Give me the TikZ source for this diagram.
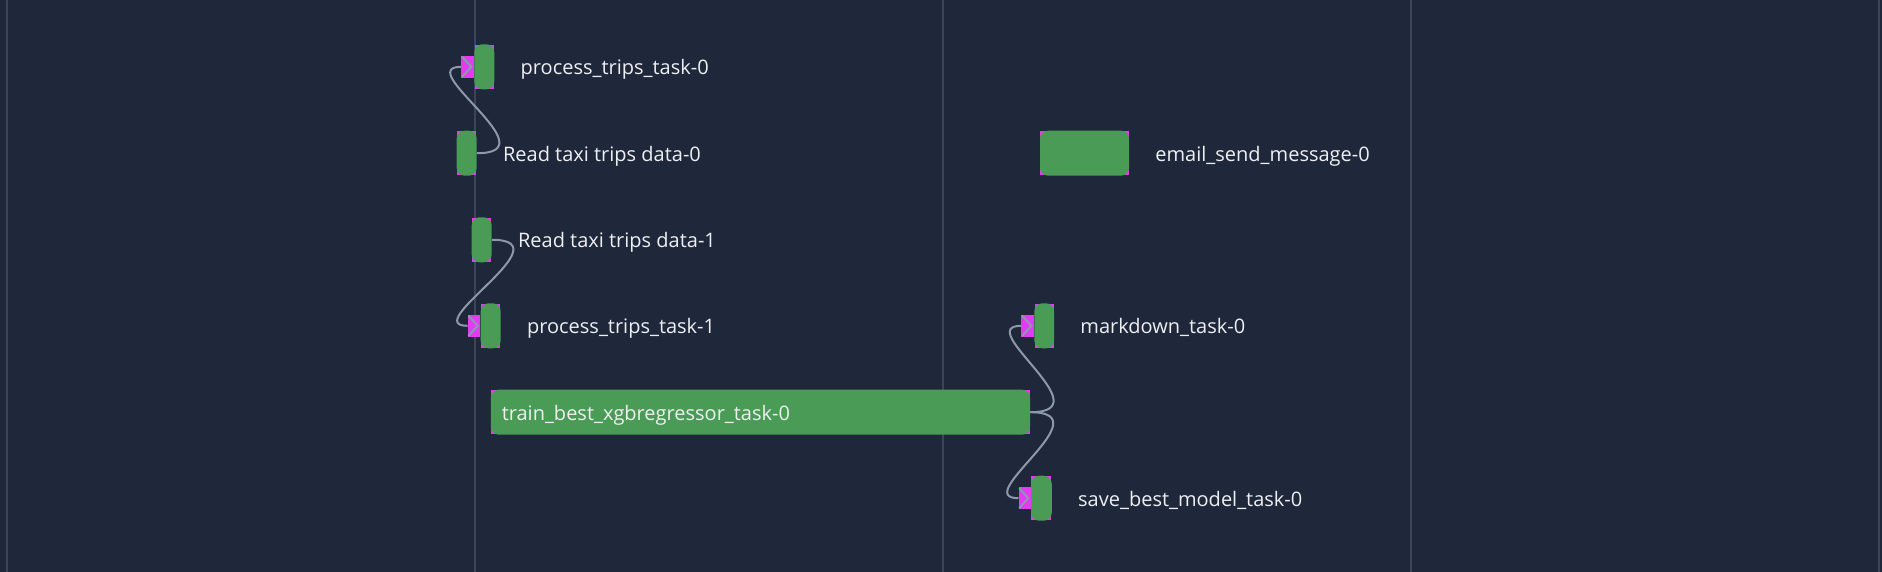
\documentclass[tikz,border=0pt]{standalone}
\usepackage{fontspec}
\setmainfont{Open Sans}
\usepackage{tikz}
\usetikzlibrary{positioning, arrows.meta}
\pgfdeclarelayer{bg}
\pgfdeclarelayer{back}
\pgfsetlayers{bg,back,main}

\definecolor{canvas}{HTML}{1F283A}
\definecolor{gridline}{HTML}{3A4558}
\definecolor{runbar}{HTML}{4A9B55}
\definecolor{pinkbox}{HTML}{E23CF2}
\definecolor{wire}{HTML}{8D98AC}
\definecolor{labeltext}{HTML}{EDEFF2}

\tikzset{
    taskbar/.style={fill=runbar, rounded corners=8pt, inner sep=0pt, minimum height=45pt},
    taskin/.style={fill=pinkbox, inner sep=0pt, minimum width=12.5pt, minimum height=21.5pt,
        path picture={\draw[wire, line width=2pt]
            ([xshift=0.5pt,yshift=-0.5pt]path picture bounding box.north west) --
            ([xshift=-2.5pt]path picture bounding box.east) --
            ([xshift=0.5pt,yshift=0.5pt]path picture bounding box.south west);}},
    tasklabel/.style={inner sep=0pt, text=labeltext, text height=16pt, text depth=0pt,
        font=\fontsize{20}{24}\selectfont},
    dep/.style={draw=wire, line width=2pt},
}

\begin{document}
\begin{tikzpicture}[x=1pt, y=-1pt]
    \useasboundingbox (0,0) rectangle (1882,572);

    % canvas and time grid
    \begin{pgfonlayer}{bg}
        \fill[canvas] (0,0) rectangle (1882,572);
        \foreach \x in {7,475,943,1411,1879}
            \draw[gridline, line width=2pt] (\x,0) -- (\x,572);
    \end{pgfonlayer}

    % task bars
    \node[taskbar, minimum width=20pt] (pt0) at (484.3,66.8) {};
    \node[taskbar, minimum width=20pt] (rd0) at (466.7,153.2) {};
    \node[taskbar, minimum width=20pt] (rd1) at (481.7,239.8) {};
    \node[taskbar, minimum width=20pt] (pt1) at (490.7,325.8) {};
    \node[taskbar, minimum width=539.3pt] (train) at (760.4,412.2) {};
    \node[taskbar, minimum width=89pt] (email) at (1084.5,153.2) {};
    \node[taskbar, minimum width=19.7pt] (md) at (1044.2,325.8) {};
    \node[taskbar, minimum width=20.7pt] (save) at (1041.4,498.2) {};

    % pink corners behind the bars
    \begin{pgfonlayer}{back}
        \foreach \t in {pt0,rd0,rd1,pt1,train,email,md,save}
            \fill[pinkbox] ([shift={(0.5pt,0.5pt)}]\t.south west) rectangle ([shift={(-0.5pt,-0.5pt)}]\t.north east);
    \end{pgfonlayer}

    % inputs
    \node[taskin, left=0pt of pt0] (pt0in) {};
    \node[taskin, left=0pt of pt1] (pt1in) {};
    \node[taskin, left=0pt of md] (mdin) {};
    \node[taskin, left=0pt of save, minimum width=12pt] (savein) {};

    % labels
    \node[tasklabel, right=26pt of pt0] (pt0lbl) {process\_trips\_task-0};
    \node[tasklabel, right=26pt of rd0] (rd0lbl) {Read taxi trips data-0};
    \node[tasklabel, right=26pt of rd1] (rd1lbl) {Read taxi trips data-1};
    \node[tasklabel, right=26pt of pt1] (pt1lbl) {process\_trips\_task-1};
    \node[tasklabel, right=11pt of train.west] (trainlbl) {train\_best\_xgbregressor\_task-0};
    \node[tasklabel, right=26pt of email] (emaillbl) {email\_send\_message-0};
    \node[tasklabel, right=26pt of md] (mdlbl) {markdown\_task-0};
    \node[tasklabel, right=26pt of save] (savelbl) {save\_best\_model\_task-0};

    % dependencies
    \draw[dep] (rd0.east) .. controls +(75,0) and +(-50,0) .. (pt0in.west);
    \draw[dep] (rd1.east) .. controls +(75,0) and +(-50,0) .. (pt1in.west);
    \draw[dep] (train.east) .. controls +(75,0) and +(-50,0) .. (mdin.west);
    \draw[dep] (train.east) .. controls +(75,0) and +(-50,0) .. (savein.west);

\end{tikzpicture}
\end{document}
